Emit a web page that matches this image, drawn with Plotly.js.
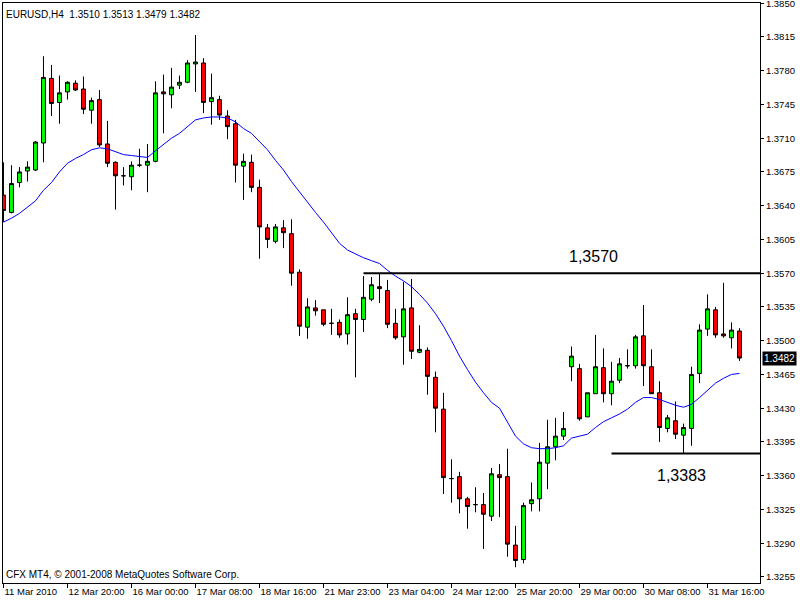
<!DOCTYPE html>
<html>
<head>
<meta charset="utf-8">
<script src="https://cdn.plot.ly/plotly-3.0.1.min.js"></script>
<style>
html,body{margin:0;padding:0;background:#fff;}
#chart{width:800px;height:600px;}
</style>
</head>
<body>
<div id="chart"></div>
<script>
// EURUSD H4 candles
var openP = [1.3651,1.3633,1.3664,1.3676,1.3677,1.3705,1.3772,1.3747,1.3758,1.3767,
 1.3761,1.3739,1.3750,1.3704,1.3685,1.3671,1.3670,1.3682,1.3682,1.3686,
 1.3758,1.3755,1.3765,1.3768,1.3787,1.3788,1.3748,1.3750,1.3733,1.3725,
 1.3681,1.3685,1.3659,1.3617,1.3603,1.3617,1.3611,1.3571,1.3514,1.3534,
 1.3532,1.3518,1.3519,1.3507,1.3528,1.3522,1.3543,1.3556,1.3552,1.3518,
 1.3504,1.3534,1.3488,1.3490,1.3462,1.3429,1.3357,1.3359,1.3336,1.3330,
 1.3330,1.3318,1.3361,1.3359,1.3288,1.3273,1.3331,1.3336,1.3373,1.3390,
 1.3401,1.3473,1.3471,1.3421,1.3445,1.3472,1.3445,1.3459,1.3474,1.3474,
 1.3505,1.3473,1.3446,1.3409,1.3417,1.3402,1.3409,1.3466,1.3512,1.3532,
 1.3507,1.3503,1.3510];
var highP = [1.3685,1.3682,1.3680,1.3686,1.3707,1.3795,1.3786,1.3775,1.3769,1.3770,
 1.3774,1.3752,1.3760,1.3728,1.3686,1.3680,1.3686,1.3699,1.3704,1.3769,
 1.3776,1.3783,1.3775,1.3791,1.3817,1.3793,1.3777,1.3754,1.3739,1.3729,
 1.3694,1.3693,1.3667,1.3621,1.3621,1.3625,1.3626,1.3574,1.3544,1.3542,
 1.3532,1.3533,1.3522,1.3545,1.3533,1.3567,1.3566,1.3570,1.3563,1.3533,
 1.3561,1.3564,1.3516,1.3493,1.3468,1.3446,1.3377,1.3364,1.3338,1.3348,
 1.3342,1.3368,1.3372,1.3388,1.3308,1.3332,1.3353,1.3394,1.3418,1.3420,
 1.3426,1.3494,1.3476,1.3446,1.3506,1.3492,1.3478,1.3482,1.3491,1.3506,
 1.3537,1.3491,1.3458,1.3423,1.3437,1.3414,1.3473,1.3517,1.3548,1.3535,
 1.3560,1.3519,1.3513];
var lowP = [1.3623,1.3632,1.3659,1.3665,1.3676,1.3685,1.3733,1.3725,1.3750,1.3759,
 1.3735,1.3725,1.3701,1.3680,1.3636,1.3661,1.3656,1.3680,1.3654,1.3685,
 1.3715,1.3741,1.3761,1.3767,1.3758,1.3736,1.3724,1.3729,1.3709,1.3664,
 1.3646,1.3654,1.3585,1.3596,1.3601,1.3596,1.3557,1.3505,1.3502,1.3526,
 1.3515,1.3506,1.3503,1.3496,1.3462,1.3509,1.3541,1.3539,1.3513,1.3501,
 1.3475,1.3481,1.3487,1.3444,1.3405,1.3341,1.3332,1.3321,1.3305,1.3322,
 1.3284,1.3313,1.3317,1.3276,1.3265,1.3269,1.3323,1.3323,1.3346,1.3376,
 1.3397,1.3458,1.3417,1.3421,1.3445,1.3436,1.3433,1.3456,1.3471,1.3471,
 1.3453,1.3445,1.3395,1.3405,1.3398,1.3383,1.3391,1.3456,1.3505,1.3503,
 1.3503,1.3492,1.3479];
var closeP = [1.3635,1.3663,1.3675,1.3680,1.3706,1.3773,1.3746,1.3757,1.3768,1.3760,
 1.3740,1.3749,1.3703,1.3684,1.3671,1.3671,1.3682,1.3682,1.3686,1.3757,
 1.3756,1.3763,1.3768,1.3788,1.3789,1.3747,1.3752,1.3734,1.3722,1.3682,
 1.3686,1.3659,1.3618,1.3605,1.3618,1.3612,1.3570,1.3515,1.3535,1.3531,
 1.3517,1.3518,1.3506,1.3527,1.3522,1.3545,1.3558,1.3554,1.3517,1.3503,
 1.3533,1.3489,1.3491,1.3463,1.3430,1.3358,1.3357,1.3336,1.3328,1.3330,
 1.3320,1.3362,1.3358,1.3289,1.3272,1.3329,1.3335,1.3374,1.3390,1.3401,
 1.3409,1.3484,1.3419,1.3446,1.3473,1.3445,1.3458,1.3476,1.3474,1.3504,
 1.3474,1.3445,1.3410,1.3420,1.3403,1.3410,1.3465,1.3511,1.3533,1.3506,
 1.3505,1.3511,1.3482];
// blue moving-average line
var maP = [1.3623,1.3627,1.3632,1.3639,1.3645,1.3656,1.3664,1.3675,1.3684,1.3689,
 1.3693,1.3698,1.3700,1.3699,1.3696,1.3693,1.3692,1.3691,1.3690,1.3697,
 1.3704,1.3710,1.3715,1.3722,1.3729,1.3731,1.3732,1.3732,1.3731,1.3727,
 1.3720,1.3715,1.3707,1.3698,1.3687,1.3677,1.3665,1.3654,1.3644,1.3633,
 1.3623,1.3612,1.3601,1.3594,1.3590,1.3586,1.3583,1.3580,1.3573,1.3567,
 1.3562,1.3556,1.3548,1.3539,1.3528,1.3515,1.3500,1.3484,1.3470,1.3457,
 1.3446,1.3436,1.3430,1.3416,1.3401,1.3393,1.3389,1.3388,1.3388,1.3389,
 1.3391,1.3399,1.3401,1.3403,1.3410,1.3416,1.3420,1.3424,1.3429,1.3436,
 1.3441,1.3441,1.3439,1.3436,1.3433,1.3431,1.3434,1.3441,1.3449,1.3456,
 1.3461,1.3465,1.3466];
// time-axis labels (bar index -> label)
var tickBars = [0,8,16,24,32,40,48,56,64,72,80,88];
var tickLabels = ["11 Mar 2010","12 Mar 20:00","16 Mar 00:00","17 Mar 08:00","18 Mar 16:00",
 "21 Mar 23:00","23 Mar 04:00","24 Mar 12:00","25 Mar 20:00","29 Mar 00:00","30 Mar 08:00","31 Mar 16:00"];
// price axis labels
var priceTicks = [1.3255,1.3290,1.3325,1.3360,1.3395,1.3430,1.3465,1.3500,1.3535,
 1.3570,1.3605,1.3640,1.3675,1.3710,1.3745,1.3780,1.3815,1.3850];
// horizontal levels and the bar where each starts
var levels = [1.3570, 1.3383];
var levelStart = [45, 76];
var symbol = "EURUSD,H4";
var lastBar = {o:1.3510, h:1.3513, l:1.3479, c:1.3482};

var bars = openP.map(function(_, i){ return i; });
var XMAX = 94.56;
var FONT = "Liberation Sans, Arial, sans-serif";

var traces = [
  {
    type: 'candlestick', x: bars, open: openP, high: highP, low: lowP, close: closeP,
    increasing: {fillcolor: '#00FF00', line: {color: '#000000', width: 1}},
    decreasing: {fillcolor: '#FF0000', line: {color: '#000000', width: 1}},
    whiskerwidth: 0, hoverinfo: 'skip', showlegend: false
  },
  {
    type: 'scatter', mode: 'lines', x: bars, y: maP,
    line: {color: '#0000FF', width: 1}, hoverinfo: 'skip', showlegend: false
  }
];

var shapes = levels.map(function(v, i){
  return {type: 'line', xref: 'x', yref: 'y', x0: levelStart[i], x1: XMAX, y0: v, y1: v,
    line: {color: '#000000', width: 2}};
});

var levelLabelPos = [{x: 73.8, yshift: 17}, {x: 84.8, yshift: -22}];
var annotations = levels.map(function(v, i){
  return {xref: 'x', yref: 'y', x: levelLabelPos[i].x, y: v, yshift: levelLabelPos[i].yshift,
    text: v.toFixed(4).replace('.', ','), showarrow: false,
    font: {family: FONT, size: 16, color: '#000000'}, xanchor: 'center', yanchor: 'middle'};
});
annotations.push({
  xref: 'paper', yref: 'paper', x: 0, y: 1, xanchor: 'left', yanchor: 'top', xshift: 1, yshift: -4,
  text: symbol + '&nbsp;&nbsp;' + [lastBar.o, lastBar.h, lastBar.l, lastBar.c].map(function(v){return v.toFixed(4);}).join(' '),
  showarrow: false, bgcolor: '#FFFFFF', borderpad: 1,
  font: {family: FONT, size: 10, color: '#000000'}
});
annotations.push({
  xref: 'paper', yref: 'paper', x: 0, y: 0, xanchor: 'left', yanchor: 'bottom', xshift: 1, yshift: 1,
  text: 'CFX MT4, © 2001-2008 MetaQuotes Software Corp.', showarrow: false,
  font: {family: FONT, size: 10, color: '#000000'}
});
annotations.push({
  xref: 'paper', yref: 'y', x: 1, y: lastBar.c, xanchor: 'left', yanchor: 'middle', xshift: 2,
  text: lastBar.c.toFixed(4), showarrow: false, bgcolor: '#000000', borderpad: 1,
  font: {family: FONT, size: 10, color: '#FFFFFF'}
});

var layout = {
  width: 800, height: 600,
  margin: {l: 3, r: 40, t: 3, b: 17, pad: 0},
  paper_bgcolor: '#FFFFFF', plot_bgcolor: '#FFFFFF',
  showlegend: false,
  boxgap: 0.3,
  xaxis: {
    type: 'linear', range: [-0.06, XMAX], fixedrange: true,
    showgrid: false, zeroline: false,
    showline: true, linecolor: '#000000', linewidth: 1, mirror: true,
    ticks: 'outside', ticklen: 4, tickcolor: '#000000', tickwidth: 1,
    tickvals: tickBars, ticktext: tickLabels, ticklabelposition: 'outside right',
    tickangle: 0, automargin: false,
    tickfont: {family: FONT, size: 9.5, color: '#000000'},
    rangeslider: {visible: false}
  },
  yaxis: {
    side: 'right', range: [1.32487, 1.38502], fixedrange: true,
    showgrid: false, zeroline: false,
    showline: true, linecolor: '#000000', linewidth: 1, mirror: true,
    ticks: 'outside', ticklen: 3, tickcolor: '#000000', tickwidth: 1,
    tickvals: priceTicks, ticktext: priceTicks.map(function(v){return v.toFixed(4);}),
    automargin: false, ticklabeloverflow: 'allow',
    tickfont: {family: FONT, size: 9.5, color: '#000000'}
  },
  shapes: shapes,
  annotations: annotations
};

Plotly.newPlot('chart', traces, layout, {staticPlot: true, displayModeBar: false});
</script>
</body>
</html>
